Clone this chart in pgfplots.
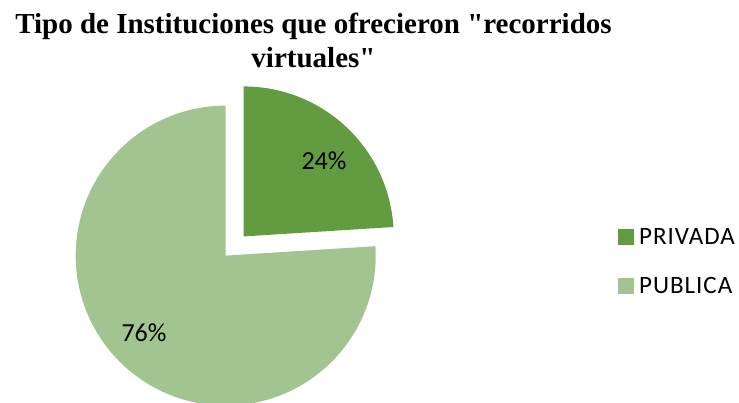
\documentclass[border=0pt]{standalone}
\usepackage{fontspec}
\setmainfont{Carlito}
\newfontfamily\titlefont{Liberation Serif}
\newfontfamily\legfont[LetterSpace=4]{Carlito}
\usepackage{pgfplots}
\usepackage{pgfplotstable}
\pgfplotsset{compat=1.18}

\definecolor{privg}{RGB}{99,155,64}
\definecolor{pubg}{RGB}{162,196,144}

\pgfplotstableread{
label value
PRIVADA 24
PUBLICA 76
}\piedata

\pgfplotstablegetelem{0}{value}\of\piedata
\let\vA\pgfplotsretval
\pgfplotstablegetelem{1}{value}\of\piedata
\let\vB\pgfplotsretval
% first slice runs clockwise from 12 o'clock
\pgfmathsetmacro\endA{90-3.6*\vA}
\pgfmathsetmacro\midA{90-1.8*\vA}

\begin{document}
\begin{tikzpicture}
\begin{axis}[
  width=739pt, height=402pt, scale only axis,
  xmin=0, xmax=739, ymin=0, ymax=402,
  hide axis,
  legend style={draw=none, fill=none, inner sep=0pt,
    at={(axis cs:618,140.5)}, anchor=west,
    font=\legfont\fontsize{25}{29}\selectfont,
    row sep=31pt,
    cells={anchor=west},
    nodes={inner xsep=5.5pt, inner ysep=0pt}},
]
\begin{scope}
\clip (axis cs:0,0) rectangle (axis cs:739,402);
% PUBLICA
\fill[pubg] (axis cs:225.7,146.4) -- ++(\endA:150pt)
  arc[start angle=\endA, end angle=-270, radius=150pt] -- cycle;
% PRIVADA, pulled out
\fill[privg, shift={(\midA:26.3pt)}] (axis cs:225.7,146.4) -- ++(90:150pt)
  arc[start angle=90, end angle=\endA, radius=150pt] -- cycle;
\end{scope}

\node[font=\fontsize{26}{30}\selectfont] at (axis cs:324,241) {\vA\%};
\node[font=\fontsize{26}{30}\selectfont] at (axis cs:144,69) {\vB\%};

\node[font=\titlefont\bfseries\fontsize{29}{34}\selectfont, align=center]
  at (axis cs:313.5,362) {Tipo de Instituciones que ofrecieron "recorridos\\virtuales"};

\addlegendimage{legend image code/.code={\fill[privg] (0pt,-7.5pt) rectangle (15pt,7.5pt);}}
\addlegendentry{PRIVADA}
\addlegendimage{legend image code/.code={\fill[pubg] (0pt,-7.5pt) rectangle (15pt,7.5pt);}}
\addlegendentry{PUBLICA}
\end{axis}
\pgfresetboundingbox
\path[use as bounding box] (current axis.south west) rectangle (current axis.north east);
\end{tikzpicture}
\end{document}
